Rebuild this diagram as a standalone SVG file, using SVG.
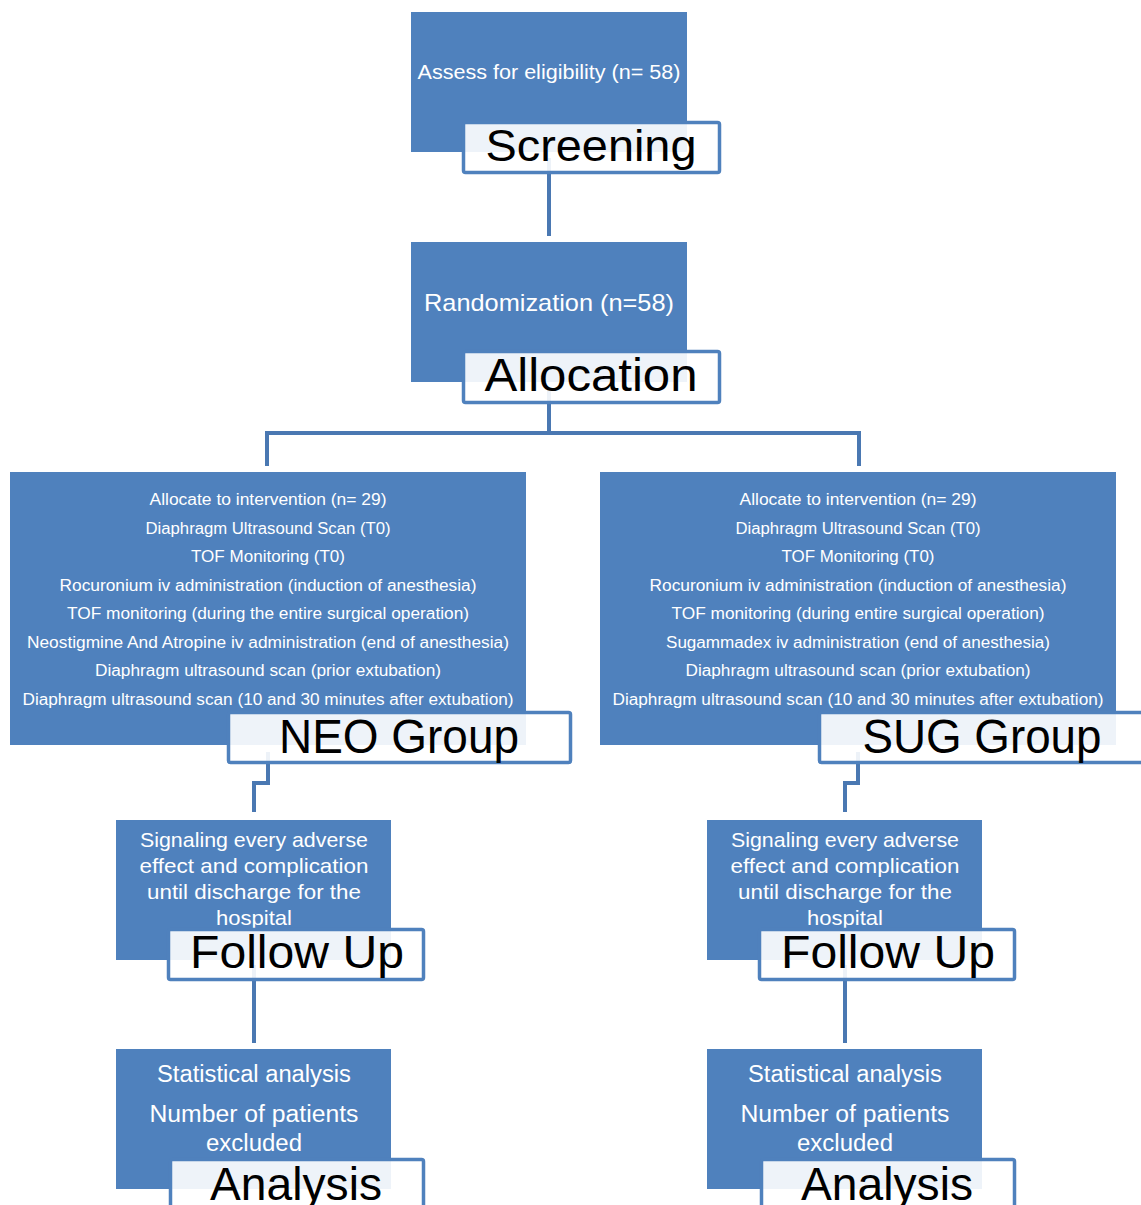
<svg xmlns="http://www.w3.org/2000/svg" width="1141" height="1205" viewBox="0 0 1141 1205">
<style>
.box{fill:#4f81bd}
.lbl{fill:#ffffff;fill-opacity:0.9;stroke:#4f81bd;stroke-width:3.5}
.con{fill:none;stroke:#4a78b2;stroke-width:4}
.t{font-family:"Liberation Sans",Arial,sans-serif;fill:#ffffff;text-anchor:middle}
.big{font-family:"Liberation Sans",Arial,sans-serif;fill:#000000;text-anchor:middle}
</style>
<rect width="1141" height="1205" fill="#ffffff"/>
<g id="connectors">
<path class="con" d="M549 158V236"/>
<path class="con" d="M549 390V433M267 466V433H859V466"/>
<path class="con" d="M268 752V783H254V812"/>
<path class="con" d="M858 752V783H845V812"/>
<path class="con" d="M254 965V1043"/>
<path class="con" d="M845 965V1043"/>
</g>
<g id="screening">
<rect class="box" x="411" y="12" width="276" height="140"/>
<text class="t" x="549" y="79" font-size="20" textLength="263" lengthAdjust="spacingAndGlyphs">Assess for eligibility (n= 58)</text>
<rect class="lbl" x="463.5" y="122.5" width="256" height="50" rx="2"/>
<text class="big" x="591" y="161" font-size="45" textLength="211" lengthAdjust="spacingAndGlyphs">Screening</text>
</g>
<g id="allocation">
<rect class="box" x="411" y="242" width="276" height="140"/>
<text class="t" x="549" y="311" font-size="24" textLength="250" lengthAdjust="spacingAndGlyphs">Randomization (n=58)</text>
<rect class="lbl" x="463.5" y="351.5" width="256" height="51" rx="2"/>
<text class="big" x="591" y="391" font-size="46" textLength="213" lengthAdjust="spacingAndGlyphs">Allocation</text>
</g>
<g id="neo-group">
<rect class="box" x="10" y="472" width="516" height="273"/>
<g class="t" font-size="16">
<text x="268" y="505" textLength="237" lengthAdjust="spacingAndGlyphs">Allocate to intervention (n= 29)</text>
<text x="268" y="534" textLength="245" lengthAdjust="spacingAndGlyphs">Diaphragm Ultrasound Scan (T0)</text>
<text x="268" y="562" textLength="154" lengthAdjust="spacingAndGlyphs">TOF Monitoring (T0)</text>
<text x="268" y="591" textLength="417" lengthAdjust="spacingAndGlyphs">Rocuronium iv administration (induction of anesthesia)</text>
<text x="268" y="619" textLength="402" lengthAdjust="spacingAndGlyphs">TOF monitoring (during the entire surgical operation)</text>
<text x="268" y="648" textLength="482" lengthAdjust="spacingAndGlyphs">Neostigmine And Atropine iv administration (end of anesthesia)</text>
<text x="268" y="676" textLength="346" lengthAdjust="spacingAndGlyphs">Diaphragm ultrasound scan (prior extubation)</text>
<text x="268" y="705" textLength="491" lengthAdjust="spacingAndGlyphs">Diaphragm ultrasound scan (10 and 30 minutes after extubation)</text>
</g>
<rect class="lbl" x="228.5" y="712.5" width="342" height="50" rx="2"/>
<text class="big" x="399" y="753" font-size="48" textLength="240" lengthAdjust="spacingAndGlyphs">NEO Group</text>
</g>
<g id="sug-group">
<rect class="box" x="600" y="472" width="516" height="273"/>
<g class="t" font-size="16">
<text x="858" y="505" textLength="237" lengthAdjust="spacingAndGlyphs">Allocate to intervention (n= 29)</text>
<text x="858" y="534" textLength="245" lengthAdjust="spacingAndGlyphs">Diaphragm Ultrasound Scan (T0)</text>
<text x="858" y="562" textLength="153" lengthAdjust="spacingAndGlyphs">TOF Monitoring (T0)</text>
<text x="858" y="591" textLength="417" lengthAdjust="spacingAndGlyphs">Rocuronium iv administration (induction of anesthesia)</text>
<text x="858" y="619" textLength="373" lengthAdjust="spacingAndGlyphs">TOF monitoring (during entire surgical operation)</text>
<text x="858" y="648" textLength="384" lengthAdjust="spacingAndGlyphs">Sugammadex iv administration (end of anesthesia)</text>
<text x="858" y="676" textLength="345" lengthAdjust="spacingAndGlyphs">Diaphragm ultrasound scan (prior extubation)</text>
<text x="858" y="705" textLength="491" lengthAdjust="spacingAndGlyphs">Diaphragm ultrasound scan (10 and 30 minutes after extubation)</text>
</g>
<rect class="lbl" x="819.5" y="712.5" width="342" height="50" rx="2"/>
<text class="big" x="982" y="753" font-size="48" textLength="239" lengthAdjust="spacingAndGlyphs">SUG Group</text>
</g>
<g id="neo-follow-up">
<rect class="box" x="116" y="820" width="275" height="140"/>
<g class="t" font-size="21">
<text x="254" y="847" textLength="228" lengthAdjust="spacingAndGlyphs">Signaling every adverse</text>
<text x="254" y="873" textLength="229" lengthAdjust="spacingAndGlyphs">effect and complication</text>
<text x="254" y="899" textLength="214" lengthAdjust="spacingAndGlyphs">until discharge for the</text>
<text x="254" y="925" textLength="76" lengthAdjust="spacingAndGlyphs">hospital</text>
</g>
<rect class="lbl" x="168.5" y="929.5" width="255" height="50" rx="2"/>
<text class="big" x="297" y="968" font-size="46" textLength="214" lengthAdjust="spacingAndGlyphs">Follow Up</text>
</g>
<g id="sug-follow-up">
<rect class="box" x="707" y="820" width="275" height="140"/>
<g class="t" font-size="21">
<text x="845" y="847" textLength="228" lengthAdjust="spacingAndGlyphs">Signaling every adverse</text>
<text x="845" y="873" textLength="229" lengthAdjust="spacingAndGlyphs">effect and complication</text>
<text x="845" y="899" textLength="214" lengthAdjust="spacingAndGlyphs">until discharge for the</text>
<text x="845" y="925" textLength="76" lengthAdjust="spacingAndGlyphs">hospital</text>
</g>
<rect class="lbl" x="759.5" y="929.5" width="255" height="50" rx="2"/>
<text class="big" x="888" y="968" font-size="46" textLength="214" lengthAdjust="spacingAndGlyphs">Follow Up</text>
</g>
<g id="neo-analysis">
<rect class="box" x="116" y="1049" width="275" height="140"/>
<g class="t" font-size="23">
<text x="254" y="1082" textLength="194" lengthAdjust="spacingAndGlyphs">Statistical analysis</text>
<text x="254" y="1122" textLength="209" lengthAdjust="spacingAndGlyphs">Number of patients</text>
<text x="254" y="1151" textLength="96" lengthAdjust="spacingAndGlyphs">excluded</text>
</g>
<rect class="lbl" x="170.5" y="1159.5" width="253" height="60" rx="2"/>
<text class="big" x="296" y="1200" font-size="46" textLength="172" lengthAdjust="spacingAndGlyphs">Analysis</text>
</g>
<g id="sug-analysis">
<rect class="box" x="707" y="1049" width="275" height="140"/>
<g class="t" font-size="23">
<text x="845" y="1082" textLength="194" lengthAdjust="spacingAndGlyphs">Statistical analysis</text>
<text x="845" y="1122" textLength="209" lengthAdjust="spacingAndGlyphs">Number of patients</text>
<text x="845" y="1151" textLength="96" lengthAdjust="spacingAndGlyphs">excluded</text>
</g>
<rect class="lbl" x="761.5" y="1159.5" width="253" height="60" rx="2"/>
<text class="big" x="887" y="1200" font-size="46" textLength="172" lengthAdjust="spacingAndGlyphs">Analysis</text>
</g>
</svg>
